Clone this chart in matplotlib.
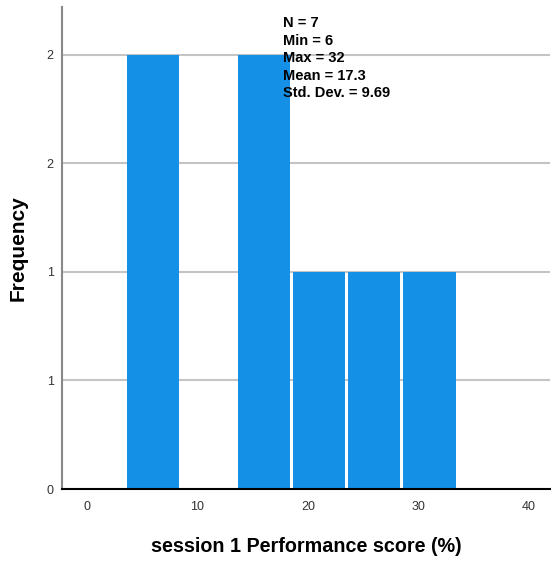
import matplotlib
matplotlib.use("Agg")
import matplotlib.pyplot as plt
import numpy as np

plt.rcParams['font.family'] = ['Liberation Sans', 'DejaVu Sans']

# scores (N=7)
scores = [6, 7, 14, 15, 21, 26, 32]
bin_edges = [3.5, 8.5, 13.5, 18.5, 23.5, 28.5, 33.5]

x_ticks = [0, 10, 20, 30, 40]
y_ticks = [0, 0.5, 1, 1.5, 2]
y_tick_labels = ["0", "1", "1", "2", "2"]

stats_text = "N = 7\nMin = 6\nMax = 32\nMean = 17.3\nStd. Dev. = 9.69"

fig = plt.figure(figsize=(5.51, 5.65), dpi=100)
ax = fig.add_axes([62/551, 1 - 489/565, 488/551, 482/565])

ax.hist(scores, bins=bin_edges, color="#1491e6", rwidth=0.945, zorder=3)

ax.set_xlim(-2.26, 41.9)
ax.set_ylim(0, 2.22)
ax.set_xticks(x_ticks)
ax.set_yticks(y_ticks)
ax.set_yticklabels(y_tick_labels)
ax.tick_params(axis="both", length=0, labelsize=9, colors="#333333")
ax.tick_params(axis="x", pad=9)
ax.tick_params(axis="y", pad=6)

for y in y_ticks[1:]:
    ax.axhline(y, color="#c4c4c4", linewidth=1.5, zorder=1)

ax.spines["top"].set_visible(False)
ax.spines["right"].set_visible(False)
ax.spines["left"].set_color("#888888")
ax.spines["left"].set_linewidth(1.5)
ax.spines["bottom"].set_color("black")
ax.spines["bottom"].set_linewidth(1.5)
ax.spines["bottom"].set_zorder(4)

ax.set_xlabel("session 1 Performance score (%)", fontsize=14.2, fontweight="bold", labelpad=17)
ax.set_ylabel("Frequency", fontsize=15, fontweight="bold", labelpad=14)

ax.text(283/551, 1 - 16/565, stats_text, transform=fig.transFigure, fontsize=10.5,
        fontweight="bold", va="top", ha="left", linespacing=1.32, zorder=5)

fig.savefig("out.png", dpi=100)
